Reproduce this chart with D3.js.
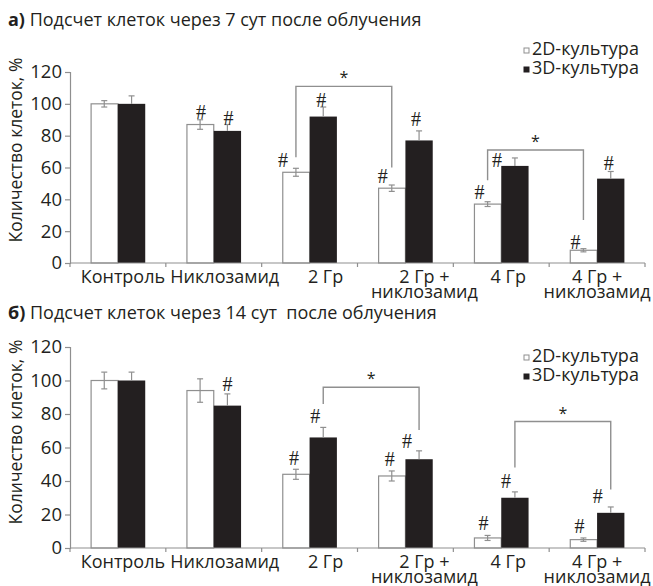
<!DOCTYPE html>
<html><head><meta charset="utf-8">
<script src="https://cdn.jsdelivr.net/npm/d3@7"></script>
<style>
html,body{margin:0;padding:0;background:#fff;}
svg{display:block;font-family:"Open Sans",sans-serif;}
</style></head>
<body><svg id="c" width="653" height="586"></svg>
<script>
// ---------- DATA ----------
const categories = ["Контроль", "Никлозамид", "2 Гр", "2 Гр +\nниклозамид", "4 Гр", "4 Гр +\nниклозамид"];
const seriesNames = ["2D-культура", "3D-культура"];
const yTicks = [0, 20, 40, 60, 80, 100, 120];

// panel а) 7 days
const a2D = [100, 87, 57, 47, 37, 8];
const a3D = [100, 83, 92, 77, 61, 53];
const a2Derr = [2, 3, 2.5, 2, 1.5, 1];
const a3Derr = [5, 4, 6, 6, 5, 4.5];
// panel б) 14 days
const b2D = [100, 94, 44, 43, 6, 5];
const b3D = [100, 85, 66, 53, 30, 21];
const b2Derr = [5, 7, 3, 3, 1.5, 1];
const b3Derr = [5, 7, 6, 5, 3.5, 3.5];

// significance markers: [category, series]
const aHashes = [[1,0],[1,1],[2,0],[2,1],[3,0],[3,1],[4,0],[4,1],[5,0],[5,1]];
const bHashes = [[1,1],[2,0],[2,1],[3,0],[3,1],[4,0],[4,1],[5,0],[5,1]];
// brackets: from [cat,series] to [cat,series], top value, leg-end values
const aBrackets = [{from:[2,0], to:[3,0], top:111, leg1:66.5, leg2:60},
                   {from:[4,0], to:[5,0], top:71, leg1:52, leg2:27}];
const bBrackets = [{from:[2,1], to:[3,1], top:96, leg1:86, leg2:70.5},
                   {from:[4,1], to:[5,1], top:75.5, leg1:48, leg2:35}];

const titleA = ["а)", " Подсчет клеток через 7 сут после облучения"];
const titleB = ["б)", " Подсчет клеток через 14 сут  после облучения"];
const yLabel = "Количество клеток, %";

// ---------- LAYOUT (placement tweaks, pixels) ----------
const aHashOff = [[1,-1],[1,0],[-13,-1],[-2,0],[-9,-2],[-3,-5],[-8,-3],[-18,9],[-8,0],[-2,-1]];
const bHashOff = [[0,-3],[-2,-4],[-8,-4],[-2,-5],[-12,-3],[-4,-5],[-9,-4],[-4,-5],[-13,-4]];
const labelDx = [5, 11, 16, 19, 7, 0];

const svg = d3.select("#c");
const ink = "#231f20", grey = "#8f8f8f";

function panel(cfg){
  const g = svg.append("g");
  const x0 = d3.scaleBand().domain(d3.range(categories.length)).range([70, 645]).padding(0);
  const bw = x0.bandwidth();
  const barW = bw * 0.285;
  const x1 = d3.scaleBand().domain([0,1]).range([(bw - 2*barW)/2, (bw + 2*barW)/2]).padding(0);
  const y = d3.scaleLinear().domain([0,120]).range([cfg.y0, cfg.y120]);
  const vals = [cfg.v2, cfg.v3], errs = [cfg.e2, cfg.e3];
  const cx = (c,s) => x0(c) + x1(s) + x1.bandwidth()/2;

  // title
  const t = g.append("text").attr("x", 8).attr("y", cfg.titleY).attr("fill", ink)
    .style("font-size", "18px").style("white-space", "pre");
  t.append("tspan").style("font-weight", "700").text(cfg.title[0]);
  t.append("tspan").text(cfg.title[1]);

  // y label
  g.append("text").attr("transform", `translate(22,${cfg.labelY}) rotate(-90)`)
    .attr("text-anchor", "middle").attr("fill", ink).style("font-size", "17.5px").text(yLabel);

  // y axis
  const ya = g.append("g").attr("transform", "translate(70,0)")
    .call(d3.axisLeft(y).tickValues(yTicks).tickSize(5).tickPadding(3).tickFormat(d3.format("d")));
  ya.select(".domain").attr("stroke", grey).attr("stroke-width", 1.2);
  ya.selectAll(".tick line").attr("stroke", grey).attr("stroke-width", 1.2);
  ya.selectAll(".tick text").attr("fill", ink).style("font-size", "18.5px").style("font-family", "Open Sans");

  // bars
  [0,1].forEach(s => {
    g.append("g").selectAll("rect").data(vals[s]).join("rect")
      .attr("x", (d,i) => x0(i) + x1(s) + (s===0?0.5:0))
      .attr("y", d => y(d))
      .attr("width", x1.bandwidth() - (s===0?0.5:0))
      .attr("height", d => y(0) - y(d))
      .attr("fill", s===0 ? "#fff" : ink)
      .attr("stroke", s===0 ? grey : "none")
      .attr("stroke-width", 1.2);
  });

  // error bars
  [0,1].forEach(s => {
    const eg = g.append("g").attr("stroke", grey).attr("stroke-width", 1.2);
    vals[s].forEach((v,i) => {
      const e = errs[s][i], c = cx(i,s);
      const lo = s===0 ? v - e : v;
      eg.append("line").attr("x1", c).attr("x2", c).attr("y1", y(lo)).attr("y2", y(v+e));
      eg.append("line").attr("x1", c-3).attr("x2", c+3).attr("y1", y(v+e)).attr("y2", y(v+e));
      if (s===0) eg.append("line").attr("x1", c-3).attr("x2", c+3).attr("y1", y(lo)).attr("y2", y(lo));
    });
  });

  // x axis
  const xa = g.append("g");
  xa.append("line").attr("x1", 70).attr("x2", 645).attr("y1", y(0)).attr("y2", y(0))
    .attr("stroke", grey).attr("stroke-width", 1.2);
  const bounds = d3.range(categories.length).map(i => x0(i) + bw).concat([x0(0)]);
  xa.selectAll("line.t").data(bounds).join("line").attr("class","t")
    .attr("x1", d => d).attr("x2", d => d).attr("y1", y(0)).attr("y2", y(0)+4)
    .attr("stroke", grey).attr("stroke-width", 1.2);
  categories.forEach((c,i) => {
    const lines = c.split("\n");
    const tx = g.append("text").attr("text-anchor", "middle").attr("fill", ink).style("font-size", "18px");
    lines.forEach((l,k) => {
      tx.append("tspan").attr("x", x0(i) + bw/2 + labelDx[i]).attr("y", y(0) + 20 + k*14.5).text(l);
    });
  });

  // brackets
  cfg.brackets.forEach(b => {
    const xa1 = cx(b.from[0], b.from[1]), xa2 = cx(b.to[0], b.to[1]);
    g.append("path").attr("fill", "none").attr("stroke", grey).attr("stroke-width", 1.4)
      .attr("d", `M${xa1},${y(b.leg1)}V${y(b.top)}H${xa2}V${y(b.leg2)}`);
    g.append("text").attr("x", (xa1+xa2)/2).attr("y", y(b.top) - 3).attr("text-anchor", "middle")
      .attr("fill", ink).style("font-size", "16px").text("*");
  });

  // hash marks
  cfg.hashes.forEach((h,k) => {
    const [c,s] = h, off = cfg.hashOff[k];
    const top = vals[s][c] + errs[s][c];
    g.append("text").attr("x", cx(c,s) + off[0]).attr("y", y(top) + off[1])
      .attr("text-anchor", "middle").attr("fill", ink)
      .style("font-family", "Liberation Serif").style("font-size", "20px").text("#");
  });

  // legend
  seriesNames.forEach((n,s) => {
    const ly = cfg.legY + s*19;
    g.append("rect").attr("x", 524).attr("y", ly - 7).attr("width", 5).attr("height", 5)
      .attr("fill", s===0 ? "#fff" : ink).attr("stroke", s===0 ? grey : ink).attr("stroke-width", 1);
    g.append("text").attr("x", 532).attr("y", ly).attr("fill", ink).style("font-size", "18px").text(n);
  });
}

panel({title:titleA, titleY:26, labelY:150, y0:263, y120:72, v2:a2D, v3:a3D, e2:a2Derr, e3:a3Derr,
       hashes:aHashes, hashOff:aHashOff, brackets:aBrackets, legY:55});
panel({title:titleB, titleY:319, labelY:432, y0:548, y120:347, v2:b2D, v3:b3D, e2:b2Derr, e3:b3Derr,
       hashes:bHashes, hashOff:bHashOff, brackets:bBrackets, legY:362});
</script></body></html>
